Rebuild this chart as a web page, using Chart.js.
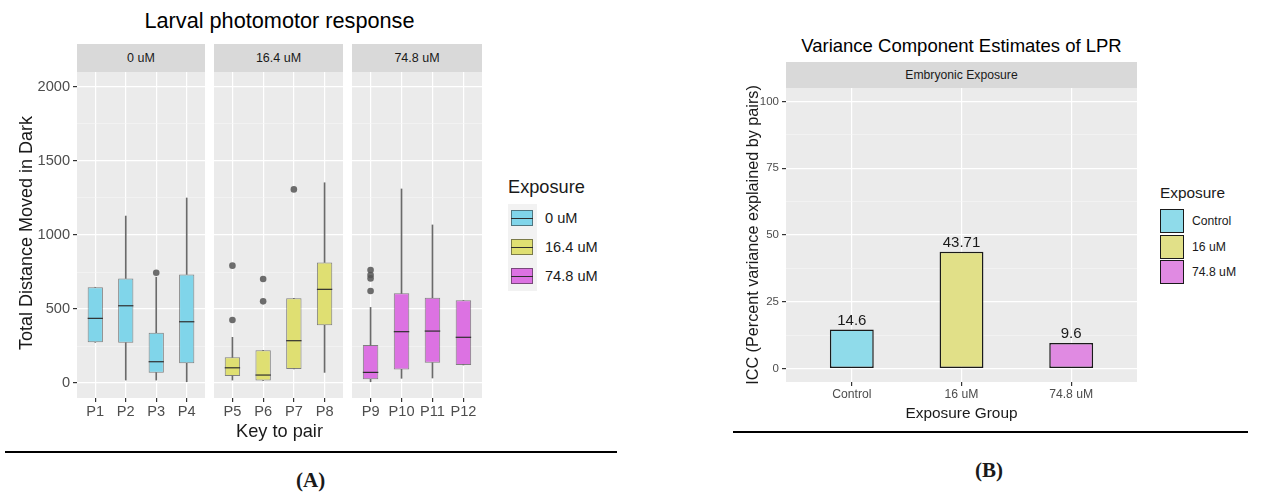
<!DOCTYPE html>
<html>
<head>
<meta charset="utf-8">
<script src="https://cdn.jsdelivr.net/npm/chart.js@4.4.1/dist/chart.umd.min.js"></script>
<style>
  body { margin: 0; width: 1276px; height: 495px; background: #fff; position: relative; overflow: hidden;
         font-family: 'Liberation Sans', Arial, sans-serif; color: #1a1a1a; }
  .abs { position: absolute; }
  canvas { position: absolute; }
  .strip { position: absolute; background: #d9d9d9; text-align: center; color: #1a1a1a; }
  .ytitle { position: absolute; width: 400px; text-align: center; white-space: nowrap; transform: rotate(-90deg); }
  .key { position: absolute; box-sizing: border-box; }
  .rule { position: absolute; height: 2px; background: #000; }
  .tag { position: absolute; font-family: 'Liberation Serif', 'Times New Roman', serif; font-weight: bold; font-size: 21px; }
</style>
</head>
<body>

<!-- panel A -->
<div class="abs" style="left:77px;top:10px;width:405px;text-align:center;font-size:21.7px;line-height:22px;color:#000">Larval photomotor response</div>
<div class="strip" style="left:77px;top:44px;width:128px;height:28px;line-height:28px;font-size:12.5px">0 uM</div>
<div class="strip" style="left:214px;top:44px;width:129px;height:28px;line-height:28px;font-size:12.5px">16.4 uM</div>
<div class="strip" style="left:352px;top:44px;width:130px;height:28px;line-height:28px;font-size:12.5px">74.8 uM</div>
<canvas id="facet0" width="205" height="366" style="left:0;top:72px"></canvas>
<canvas id="facet1" width="129" height="366" style="left:214px;top:72px"></canvas>
<canvas id="facet2" width="130" height="366" style="left:352px;top:72px"></canvas>
<div class="ytitle" style="left:-174px;top:224px;font-size:18px;line-height:18px">Total Distance Moved in Dark</div>
<div class="abs" style="left:77px;top:422px;width:405px;text-align:center;font-size:18.2px;line-height:18px">Key to pair</div>

<div class="abs" style="left:508px;top:178px;font-size:18.2px;line-height:18px">Exposure</div>
<div id="legendA"></div>

<div class="rule" style="left:5px;top:451px;width:612px"></div>
<div class="tag" style="left:296px;top:468px">(A)</div>

<!-- panel B -->
<div class="abs" style="left:786px;top:36px;width:351px;text-align:center;font-size:18.5px;line-height:19px;color:#000">Variance Component Estimates of LPR</div>
<div class="strip" style="left:786px;top:62px;width:351px;height:26px;line-height:26px;font-size:12.2px">Embryonic Exposure</div>
<canvas id="chartB" width="407" height="324" style="left:730px;top:88px"></canvas>
<div class="ytitle" style="left:552px;top:227px;font-size:16.2px;line-height:16px">ICC (Percent variance explained by pairs)</div>
<div class="abs" style="left:786px;top:405px;width:351px;text-align:center;font-size:15.4px;line-height:16px">Exposure Group</div>

<div class="abs" style="left:1160px;top:185px;font-size:15.4px;line-height:16px">Exposure</div>
<div id="legendB"></div>

<div class="rule" style="left:733px;top:431px;width:515px"></div>
<div class="tag" style="left:975px;top:458px">(B)</div>

<script>
// panel A: boxplot stats per pair
const pairs = ['P1', 'P2', 'P3', 'P4', 'P5', 'P6', 'P7', 'P8', 'P9', 'P10', 'P11', 'P12'];
const doses = ['0 uM', '16.4 uM', '74.8 uM'];
const whiskerLow  = [275,   20,  20,    9,  20,  18,  95,   72,   9,   32,   34, 122];
const q1          = [275,  272,  70,  133,  47,  18,  95,  390,  25,   92,  137, 122];
const medians     = [437,  522, 144,  414, 103,  54, 286,  633,  72,  347,  351, 309];
const q3          = [647,  707, 340,  734, 174, 221, 572,  815, 257,  606,  576, 559];
const whiskerHigh = [647, 1128, 715, 1250, 309, 221, 572, 1353, 511, 1311, 1068, 559];
const outlierPair  = ['P3', 'P5', 'P5', 'P6', 'P6', 'P7', 'P9', 'P9', 'P9', 'P9'];
const outlierValue = [745,  793,  426,  703,  552, 1308,  764,  730,  707,  622];
const yTicksA = [0, 500, 1000, 1500, 2000];

// panel B: ICC per exposure group
const groups = ['Control', '16 uM', '74.8 uM'];
const icc = [14.6, 43.71, 9.6];
const yTicksB = [0, 25, 50, 75, 100];

const boxFill = ['#80d5ea', '#dfdf72', '#dc72e2'];
const barFill = ['#8fdbea', '#e1e088', '#e08ae2'];

Chart.defaults.font.family = "'Liberation Sans', Arial, sans-serif";
Chart.defaults.animation = false;

const panelBg = {
    id: 'panelBg',
    beforeDraw(chart) {
        const { ctx, chartArea: a } = chart;
        ctx.save();
        ctx.fillStyle = '#ebebeb';
        ctx.fillRect(a.left, a.top, a.width, a.height);
        ctx.restore();
    }
};

function withMinor(major) {
    const all = major.slice();
    for (let i = 0; i < major.length - 1; i++) all.push((major[i] + major[i + 1]) / 2);
    return all.sort((a, b) => a - b);
}

// no label overhang padding: panels must fill their canvas edge to edge
function noPad(s) {
    s.paddingTop = 0; s.paddingBottom = 0; s.paddingLeft = 0; s.paddingRight = 0;
}

function yAxis(major, min, max, width, showLabels, fontSize) {
    const isMajor = c => c.tick && major.includes(c.tick.value);
    return {
        type: 'linear', min: min, max: max,
        afterBuildTicks: s => { s.ticks = withMinor(major).map(v => ({ value: v })); },
        afterFit: s => { s.width = width; noPad(s); },
        border: { display: false },
        grid: {
            color: c => isMajor(c) ? '#ffffff' : '#f6f6f6',
            lineWidth: c => isMajor(c) ? 1.2 : 0.6,
            drawTicks: showLabels,
            tickLength: 4,
            tickColor: c => isMajor(c) ? '#333333' : 'rgba(0,0,0,0)'
        },
        ticks: {
            display: showLabels, padding: 3, color: '#4d4d4d', font: { size: fontSize },
            callback: v => major.includes(v) ? String(v) : ''
        }
    };
}

function xAxis(labels, height, fontSize) {
    return {
        type: 'linear', min: 0.4, max: labels.length + 0.6,
        offset: false,
        afterBuildTicks: s => { s.ticks = labels.map((l, i) => ({ value: i + 1 })); },
        afterFit: s => { s.height = height; noPad(s); },
        border: { display: false },
        grid: { offset: false, color: '#ffffff', lineWidth: 1.2, tickLength: 4, tickColor: '#333333' },
        ticks: { padding: 1, color: '#4d4d4d', font: { size: fontSize }, maxRotation: 0, autoSkip: false,
                 callback: v => labels[v - 1] }
    };
}

function drawFacet(f) {
    const idx = [0, 1, 2, 3].map(i => f * 4 + i);
    const labels = idx.map(i => pairs[i]);
    const pt = (i, y) => ({ x: labels.indexOf(pairs[i]) + 1, y: y });
    const outliers = outlierPair
        .map((p, k) => ({ p: p, v: outlierValue[k] }))
        .filter(o => labels.includes(o.p))
        .map(o => ({ x: labels.indexOf(o.p) + 1, y: o.v }));
    const halfBox = c => c.chart.scales.x.getPixelForValue(1.25) - c.chart.scales.x.getPixelForValue(1);

    new Chart(document.getElementById('facet' + f), {
        type: 'bar',
        data: {
            datasets: [
                { // lower whisker
                    data: idx.map(i => pt(i, [whiskerLow[i], q1[i]])),
                    backgroundColor: '#6a6a6a', barThickness: 1, grouped: false, order: 4
                },
                { // upper whisker
                    data: idx.map(i => pt(i, [q3[i], whiskerHigh[i]])),
                    backgroundColor: '#6a6a6a', barThickness: 1, grouped: false, order: 4
                },
                { // box
                    data: idx.map(i => pt(i, [q1[i], q3[i]])),
                    backgroundColor: boxFill[f],
                    borderColor: 'rgba(40,40,40,0.55)', borderWidth: 1, borderSkipped: false,
                    barPercentage: 0.5, categoryPercentage: 1, grouped: false, order: 3
                },
                { // median
                    type: 'line', showLine: false,
                    data: idx.map(i => pt(i, medians[i])),
                    pointStyle: 'line', pointRadius: halfBox,
                    pointBorderColor: '#2e2e2e', pointBorderWidth: 1.2, order: 2
                },
                { // outliers
                    type: 'line', showLine: false,
                    data: outliers,
                    pointStyle: 'circle', pointRadius: 3.3,
                    pointBackgroundColor: 'rgba(85,85,85,0.85)', pointBorderWidth: 0, order: 1
                }
            ]
        },
        options: {
            responsive: false,
            events: [],
            layout: { padding: 0, autoPadding: false },
            plugins: { legend: { display: false }, tooltip: { enabled: false } },
            scales: {
                x: xAxis(labels, 40, 14.6),
                y: yAxis(yTicksA, -101, 2101, f === 0 ? 77 : 0, f === 0, 14.6)
            }
        },
        plugins: [panelBg]
    });
}

[0, 1, 2].forEach(drawFacet);

const barLabels = {
    id: 'barLabels',
    afterDatasetsDraw(chart) {
        const { ctx } = chart;
        ctx.save();
        ctx.font = "15px 'Liberation Sans', Arial, sans-serif";
        ctx.fillStyle = '#1a1a1a';
        ctx.textAlign = 'center';
        ctx.textBaseline = 'alphabetic';
        chart.getDatasetMeta(0).data.forEach((bar, i) => ctx.fillText(String(icc[i]), bar.x, bar.y - 5));
        ctx.restore();
    }
};

new Chart(document.getElementById('chartB'), {
    type: 'bar',
    data: {
        datasets: [{
            data: icc.map((v, i) => ({ x: i + 1, y: v })),
            backgroundColor: barFill,
            borderColor: '#1a1a1a', borderWidth: 1.5, borderSkipped: false,
            barPercentage: 0.4, categoryPercentage: 1
        }]
    },
    options: {
        responsive: false,
        events: [],
        layout: { padding: 0, autoPadding: false },
        plugins: { legend: { display: false }, tooltip: { enabled: false } },
        scales: {
            x: xAxis(groups, 30, 12.2),
            y: yAxis(yTicksB, -5, 105, 56, true, 11.5)
        }
    },
    plugins: [panelBg, barLabels]
});

// legends (HTML keys)
const legendA = document.getElementById('legendA');
doses.forEach((d, i) => {
    const cy = 218 + i * 29;
    legendA.insertAdjacentHTML('beforeend',
        `<div class="key" style="left:508px;top:${cy - 14}px;width:29px;height:29px;background:#f2f2f2"></div>` +
        `<div class="key" style="left:511px;top:${cy - 8}px;width:22px;height:16px;background:${boxFill[i]};border:1px solid rgba(40,40,40,0.55)"></div>` +
        `<div class="key" style="left:511px;top:${cy}px;width:22px;height:1px;background:#2e2e2e"></div>` +
        `<div class="abs" style="left:545px;top:${cy - 8}px;font-size:14.6px;line-height:16px">${d}</div>`);
});

const legendB = document.getElementById('legendB');
groups.forEach((g, i) => {
    const cy = 221 + i * 25.5;
    legendB.insertAdjacentHTML('beforeend',
        `<div class="key" style="left:1160px;top:${cy - 12}px;width:24px;height:24px;background:${barFill[i]};border:1.5px solid #1a1a1a"></div>` +
        `<div class="abs" style="left:1192px;top:${cy - 7}px;font-size:12.2px;line-height:14px">${g}</div>`);
});
</script>
</body>
</html>
